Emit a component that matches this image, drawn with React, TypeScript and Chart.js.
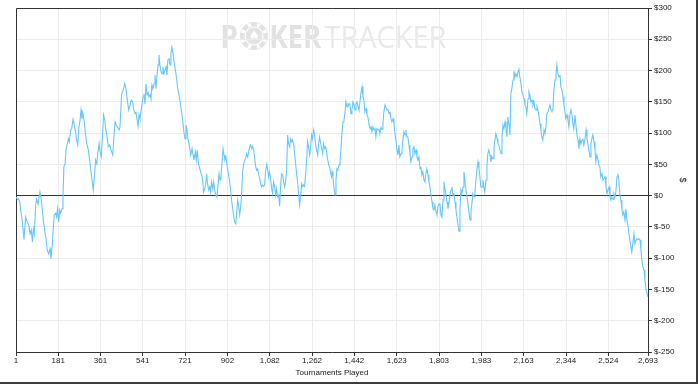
import React, { useEffect, useRef } from 'react';
import { Chart, registerables } from 'chart.js';

Chart.register(...registerables);

// ---- data ----
const xTickValues = [1, 181, 361, 541, 721, 902, 1082, 1262, 1442, 1623, 1803, 1983, 2163, 2344, 2524, 2693];
const yMin = -250;
const yMax = 300;
const yStep = 50;
const xTitle = 'Tournaments Played';
const yTitle = '$';
const watermarkBoldP = 'P';
const watermarkBoldRest = 'KER';
const watermarkLight = 'TRACKER';

// [tournament, cumulative profit $]
const profitByTournament: [number, number][] = [
  [1,-2],[7,-6],[11,-5],[17,-10],[21,-23],[28,-42],[35,-70],[42,-34],[49,-42],[55,-47],[61,-61],[66,-55],[71,-74],[75,-53],[79,-61],[85,-15],[89,-6],[95,-13],[103,6],[109,-7],[117,-39],[123,-55],[129,-69],[134,-87],[140,-93],[146,-85],[150,-101],[156,-77],[160,-50],[164,-31],[170,-28],[174,-34],[178,-21],[183,-42],[187,-23],[191,-28],[197,-21],[201,-2],[205,46],[210,51],[214,73],[220,83],[224,91],[228,86],[234,105],[238,107],[244,122],[249,113],[255,102],[259,89],[264,81],[269,110],[274,121],[278,137],[282,123],[286,131],[292,118],[296,102],[302,83],[308,75],[313,62],[319,43],[325,25],[330,9],[336,35],[340,57],[345,51],[349,67],[355,83],[359,70],[364,62],[370,99],[374,129],[379,121],[383,107],[389,94],[394,78],[400,81],[406,73],[413,65],[418,94],[423,118],[428,113],[434,109],[440,105],
  [444,110],[451,163],[458,169],[464,179],[470,169],[475,153],[481,137],[487,145],[492,153],[498,150],[502,139],[508,131],[512,134],[516,123],[521,111],[525,129],[529,123],[533,134],[538,147],[542,158],[546,163],[550,147],[555,179],[559,161],[563,166],[567,158],[572,161],[576,155],[580,177],[584,171],[589,179],[593,193],[597,171],[601,190],[606,209],[610,225],[614,209],[619,198],[623,195],[627,206],[631,195],[636,201],[640,206],[644,193],[648,217],[653,219],[657,209],[661,227],[665,237],[670,227],[674,214],[680,201],[685,187],[690,171],[694,163],[699,153],[705,137],[711,121],[716,102],[721,91],[725,113],[729,105],[734,89],[739,81],[745,65],[751,75],[755,65],[759,57],[765,70],[769,57],[773,73],[778,51],[782,46],[787,38],[792,33],[796,25],[800,6],[805,11],[809,19],[813,35],[817,19],[822,9],[826,14],[830,6],[834,22],[839,11],[843,22],[847,9],[853,1],[857,-2],[861,14],[866,35],[870,25],[874,30],[878,51],[883,75],[887,65],[891,57],
  [895,62],[902,43],[910,25],[915,9],[921,-13],[927,-29],[932,-42],[937,-45],[941,-29],[945,-7],[949,-15],[954,-31],[958,-18],[962,3],[966,38],[971,51],[975,57],[979,59],[983,67],[988,62],[992,70],[996,78],[1000,81],[1005,75],[1009,79],[1013,73],[1017,62],[1022,46],[1026,41],[1030,43],[1034,35],[1039,27],[1043,19],[1047,14],[1052,17],[1056,15],[1060,17],[1064,38],[1069,50],[1073,41],[1077,30],[1081,38],[1086,25],[1090,11],[1094,3],[1098,22],[1103,14],[1107,1],[1111,11],[1115,-2],[1120,1],[1124,-17],[1128,14],[1132,35],[1137,33],[1141,22],[1145,14],[1149,22],[1154,43],[1158,97],[1162,83],[1167,78],[1171,91],[1175,86],[1179,89],[1184,81],[1188,67],[1192,51],[1196,35],[1201,19],[1205,1],[1209,-15],[1213,-2],[1218,19],[1222,14],[1226,17],[1230,15],[1235,35],[1239,57],[1243,86],[1247,78],[1252,65],[1256,78],[1260,97],[1264,91],[1269,105],[1273,97],[1277,83],[1281,73],[1286,65],[1290,83],[1294,94],[1299,83],[1303,75],[1307,67],[1311,83],[1316,75],[1320,78],[1324,70],[1328,59],[1333,49],[1337,46],[1341,35],[1345,30],
  [1347,38],[1351,30],[1355,14],[1360,1],[1364,25],[1368,43],[1372,41],[1377,49],[1381,54],[1385,73],[1389,99],[1394,118],[1398,121],[1402,131],[1406,150],[1411,142],[1415,147],[1419,145],[1423,147],[1428,131],[1432,137],[1436,150],[1441,145],[1445,137],[1449,147],[1453,150],[1458,142],[1462,137],[1466,150],[1470,163],[1475,174],[1479,158],[1483,153],[1487,134],[1492,139],[1496,129],[1500,126],[1504,115],[1509,107],[1513,111],[1517,102],[1521,110],[1526,105],[1530,109],[1534,94],[1538,107],[1543,105],[1547,107],[1551,99],[1556,109],[1560,106],[1564,115],[1568,134],[1573,145],[1577,145],[1581,137],[1585,138],[1590,131],[1594,134],[1598,123],[1602,118],[1607,123],[1611,115],[1615,99],[1619,89],[1624,73],[1628,65],[1632,81],[1636,62],[1641,67],[1645,73],[1649,89],[1653,102],[1658,97],[1662,105],[1666,94],[1670,94],[1675,81],[1679,67],[1683,54],[1688,62],[1692,75],[1696,78],[1700,67],[1705,73],[1709,62],[1713,57],[1717,62],[1722,43],[1726,46],[1730,33],[1734,38],[1739,25],[1743,22],[1747,35],[1751,43],[1756,33],[1760,22],[1764,14],[1768,3],[1773,-10],[1777,-21],[1781,-23],[1785,-15],[1790,-26],[1794,-31],
  [1798,-18],[1803,-13],[1807,-15],[1811,-31],[1815,-34],[1820,-7],[1824,22],[1828,11],[1832,3],[1837,-10],[1841,-21],[1845,-13],[1849,1],[1854,9],[1858,14],[1862,1],[1866,3],[1871,-10],[1875,-23],[1879,-34],[1883,-45],[1888,-57],[1892,-23],[1896,9],[1900,3],[1905,14],[1909,38],[1913,25],[1917,11],[1922,-2],[1926,-13],[1930,-26],[1935,-39],[1939,-26],[1943,-13],[1947,3],[1952,-2],[1956,6],[1960,25],[1964,41],[1969,54],[1973,43],[1977,30],[1981,14],[1986,14],[1990,25],[1994,14],[1998,6],[2003,25],[2007,49],[2011,67],[2015,73],[2020,65],[2024,54],[2028,62],[2033,59],[2037,78],[2041,89],[2045,99],[2050,91],[2054,83],[2058,81],[2062,73],[2067,67],[2071,94],[2075,113],[2079,107],[2084,118],[2088,107],[2092,94],[2096,126],[2101,113],[2105,97],[2109,163],[2113,171],[2118,185],[2122,199],[2126,190],[2130,195],[2135,190],[2139,198],[2143,202],[2147,190],[2152,179],[2156,166],[2160,161],[2165,155],[2169,145],[2173,142],[2177,131],[2182,155],[2186,166],[2190,161],[2194,150],[2199,153],[2203,145],[2207,150],[2211,139],[2216,137],[2220,142],[2224,137],[2228,129],[2233,115],[2237,105],[2241,94],[2245,89],
  [2250,105],[2254,99],[2258,110],[2262,131],[2267,134],[2271,139],[2275,145],[2280,137],[2284,135],[2288,137],[2292,169],[2297,185],[2301,195],[2305,209],[2309,195],[2314,190],[2318,193],[2322,174],[2326,169],[2331,158],[2335,145],[2339,134],[2343,123],[2348,129],[2352,121],[2356,110],[2360,129],[2365,137],[2369,129],[2373,115],[2377,107],[2382,129],[2386,113],[2390,97],[2395,89],[2399,75],[2403,91],[2407,83],[2412,89],[2416,91],[2420,81],[2424,89],[2429,105],[2433,91],[2437,83],[2441,73],[2446,62],[2450,83],[2454,91],[2458,97],[2463,86],[2467,73],[2471,54],[2475,65],[2480,57],[2484,49],[2488,46],[2492,30],[2497,35],[2501,25],[2505,27],[2510,30],[2514,14],[2518,3],[2522,9],[2527,14],[2531,-2],[2535,-7],[2539,-2],[2544,-6],[2548,3],[2552,-2],[2556,6],[2561,30],[2565,35],[2569,25],[2573,3],[2578,-7],[2582,-23],[2586,-31],[2590,-26],[2595,-39],[2599,-21],[2603,-39],[2607,-47],[2612,-61],[2616,-71],[2620,-82],[2624,-90],[2629,-74],[2633,-61],[2637,-77],[2642,-71],[2646,-69],[2650,-70],[2654,-69],[2659,-71],[2663,-87],[2667,-103],[2671,-114],[2676,-119],[2680,-135],[2684,-149],[2693,-162],
];

const FONT_FAMILY = "'Liberation Sans', Arial, sans-serif";
const WM_COLOR = '#e2e2e2';
const WM_LIGHT = '#e9e9e9';
const AXIS_COLOR = '#333333';
const GRID_COLOR = '#ececec';

function drawInk(
  ctx: CanvasRenderingContext2D,
  text: string,
  font: string,
  left: number,
  right: number,
  top: number,
  bottom: number,
  color: string
) {
  ctx.save();
  ctx.font = font;
  ctx.textAlign = 'left';
  ctx.textBaseline = 'alphabetic';
  const m = ctx.measureText(text);
  const inkW = m.actualBoundingBoxLeft + m.actualBoundingBoxRight;
  const inkH = m.actualBoundingBoxAscent + m.actualBoundingBoxDescent;
  const sx = (right - left) / inkW;
  const sy = (bottom - top) / inkH;
  ctx.translate(left, top);
  ctx.scale(sx, sy);
  ctx.fillStyle = color;
  ctx.fillText(text, m.actualBoundingBoxLeft, m.actualBoundingBoxAscent);
  ctx.restore();
}

const watermarkPlugin = {
  id: 'watermark',
  beforeDraw(chart: any) {
    const ctx: CanvasRenderingContext2D = chart.ctx;
    const bold = "700 32px 'Open Sans', 'Liberation Sans', Arial, sans-serif";
    const light = "400 32px 'Open Sans', 'Liberation Sans', Arial, sans-serif";
    drawInk(ctx, watermarkBoldP, bold, 222, 237, 24.5, 47.5, WM_COLOR);
    drawInk(ctx, watermarkBoldRest, bold, 271, 322, 24.5, 47.5, WM_COLOR);
    drawInk(ctx, watermarkLight, light, 324.5, 446.5, 24.5, 47.5, WM_LIGHT);
    // poker chip as the "O"
    const cx = 254;
    const cy = 36;
    const r = 14;
    ctx.save();
    ctx.fillStyle = WM_COLOR;
    ctx.beginPath();
    ctx.arc(cx, cy, r, 0, Math.PI * 2);
    ctx.fill();
    ctx.fillStyle = '#ffffff';
    for (let i = 0; i < 8; i++) {
      const a = (i * Math.PI) / 4 + Math.PI / 8;
      ctx.beginPath();
      ctx.arc(cx, cy, r - 0.5, a - 0.14, a + 0.14);
      ctx.arc(cx, cy, r - 4, a + 0.14, a - 0.14, true);
      ctx.closePath();
      ctx.fill();
    }
    ctx.strokeStyle = '#ffffff';
    ctx.lineWidth = 1.2;
    ctx.beginPath();
    ctx.arc(cx, cy, r - 5, 0, Math.PI * 2);
    ctx.stroke();
    ctx.font = "13px 'DejaVu Sans', sans-serif";
    ctx.textAlign = 'center';
    ctx.textBaseline = 'middle';
    ctx.fillText('\u2660', cx, cy + 0.5);
    ctx.restore();
  },
};

const borderPlugin = {
  id: 'plotBorder',
  beforeDatasetsDraw(chart: any) {
    const ctx: CanvasRenderingContext2D = chart.ctx;
    const a = chart.chartArea;
    ctx.save();
    ctx.strokeStyle = AXIS_COLOR;
    ctx.lineWidth = 1;
    ctx.beginPath();
    const l = Math.round(a.left) + 0.5;
    const t = Math.round(a.top) + 0.5;
    ctx.moveTo(l, Math.round(a.bottom));
    ctx.lineTo(l, t);
    ctx.lineTo(Math.round(a.right), t);
    ctx.stroke();
    ctx.restore();
  },
};

const framePlugin = {
  id: 'frame',
  afterDraw(chart: any) {
    const ctx: CanvasRenderingContext2D = chart.ctx;
    ctx.save();
    ctx.fillStyle = '#3c3c3c';
    ctx.fillRect(696, 0, 2, 384);
    ctx.fillRect(0, 382, 698, 2);
    ctx.restore();
  },
};

export default function App() {
  const canvasRef = useRef<HTMLCanvasElement | null>(null);

  useEffect(() => {
    const canvas = canvasRef.current;
    if (!canvas) return;
    const tickFont = { family: FONT_FAMILY, size: 8 };
    const chart = new Chart(canvas, {
      type: 'line',
      data: {
        datasets: [
          {
            data: profitByTournament.map(([x, y]) => ({ x, y })),
            borderColor: 'rgb(102, 199, 252)',
            borderWidth: 1.1,
            pointRadius: 0,
            tension: 0,
            fill: false,
          },
        ],
      },
      options: {
        animation: false,
        responsive: false,
        maintainAspectRatio: false,
        devicePixelRatio: 1,
        layout: { padding: { left: 16, top: 8, right: 0, bottom: 0 } },
        plugins: {
          legend: { display: false },
          tooltip: { enabled: false },
        },
        scales: {
          x: {
            type: 'linear',
            min: xTickValues[0],
            max: xTickValues[xTickValues.length - 1],
            afterBuildTicks: (scale: any) => {
              scale.ticks = xTickValues.map((v) => ({ value: v }));
            },
            afterFit: (scale: any) => {
              scale.height = 33;
            },
            ticks: {
              autoSkip: false,
              maxRotation: 0,
              minRotation: 0,
              padding: 0,
              color: '#1a1a1a',
              font: tickFont,
              callback: (v: any) => Number(v).toLocaleString('en-US'),
            },
            grid: {
              color: GRID_COLOR,
              tickColor: AXIS_COLOR,
              tickLength: 4,
              lineWidth: 1,
            },
            border: { color: AXIS_COLOR, width: 1 },
            title: {
              display: true,
              text: xTitle,
              color: '#1a1a1a',
              font: { family: FONT_FAMILY, size: 8 },
              padding: { top: 0, bottom: 7 },
            },
          },
          y: {
            position: 'right',
            min: yMin,
            max: yMax,
            afterFit: (scale: any) => {
              scale.width = 52;
            },
            ticks: {
              stepSize: yStep,
              padding: 2,
              color: '#1a1a1a',
              font: tickFont,
              callback: (v: any) => '$' + v,
            },
            grid: {
              color: (c: any) => (c.tick && c.tick.value === 0 ? AXIS_COLOR : GRID_COLOR),
              tickColor: AXIS_COLOR,
              tickLength: 4,
              lineWidth: 1,
            },
            border: { color: AXIS_COLOR, width: 1 },
            title: {
              display: true,
              text: yTitle,
              color: '#1a1a1a',
              font: { family: FONT_FAMILY, size: 9 },
              padding: { top: 12, bottom: 0 },
            },
          },
        },
      },
      plugins: [watermarkPlugin, borderPlugin, framePlugin],
    } as any);
    return () => {
      chart.destroy();
    };
  }, []);

  return (
    <div style={{ position: 'absolute', left: 0, top: 0, width: 700, height: 385, background: '#ffffff' }}>
      <canvas ref={canvasRef} width={700} height={385} style={{ display: 'block', width: 700, height: 385 }} />
    </div>
  );
}
